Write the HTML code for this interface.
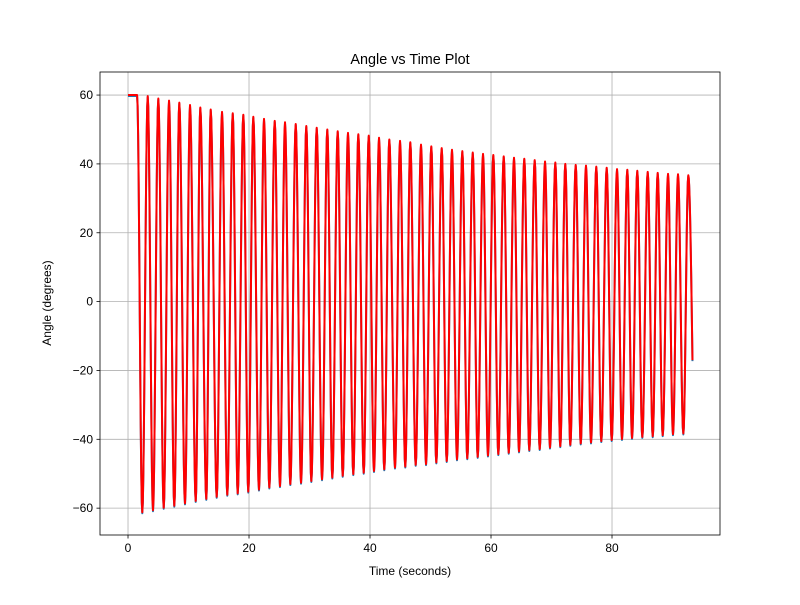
<!DOCTYPE html>
<html><head><meta charset="utf-8"><style>body{margin:0;background:#fff}svg{font-family:"Liberation Sans","DejaVu Sans",sans-serif}</style></head>
<body>
<svg id="chart" width="800" height="600" xmlns="http://www.w3.org/2000/svg"></svg>
<script>
const xTicks=[0,20,40,60,80];
const yTicks=[-60,-40,-20,0,20,40,60];
const startTimes=[0,1.5];
const startValues=[60,60];
const minTimes=[2.36,4.13,5.90,7.65,9.42,11.19,12.94,14.66,16.41,18.13,19.88,21.65,23.36,25.12,26.83,28.60,30.30,32.07,33.77,35.49,37.24,38.96,40.66,42.36,44.13,45.83,47.55,49.26,50.96,52.68,54.38,56.08,57.80,59.50,61.21,62.93,64.63,66.33,68.05,69.75,71.45,73.11,74.83,76.53,78.23,79.95,81.65,83.31,85.01,86.73,88.38,90.08,91.79];
const minValues=[-61.2,-60.6,-59.9,-59.3,-58.6,-57.9,-57.3,-56.7,-56.1,-55.7,-55.2,-54.6,-54.0,-53.6,-53.0,-52.6,-52.1,-51.6,-51.1,-50.6,-50.1,-49.7,-49.2,-48.7,-48.2,-47.9,-47.4,-47.2,-46.7,-46.3,-45.8,-45.5,-45.1,-44.7,-44.3,-43.9,-43.5,-43.1,-42.8,-42.4,-42.0,-41.6,-41.2,-40.9,-40.5,-40.2,-39.9,-39.6,-39.3,-39.1,-38.8,-38.5,-38.3];
const maxTimes=[3.26,5.01,6.78,8.48,10.25,11.95,13.67,15.54,17.31,19.06,20.71,22.48,24.25,25.95,27.72,29.47,31.19,32.94,34.66,36.36,38.07,39.79,41.49,43.19,44.96,46.66,48.43,50.13,51.85,53.55,55.26,56.98,58.68,60.38,62.10,63.80,65.50,67.22,68.93,70.63,72.28,74.00,75.70,77.40,79.12,80.83,82.53,84.18,85.90,87.55,89.26,90.91,92.61];
const maxValues=[59.7,59.0,58.4,57.8,57.1,56.4,55.8,55.1,54.7,54.3,53.7,53.1,52.5,52.1,51.6,51.0,50.5,50.0,49.5,49.0,48.6,48.2,47.6,47.1,46.7,46.3,45.6,45.1,44.6,44.1,43.7,43.3,42.9,42.6,42.2,41.8,41.5,41.1,40.7,40.4,40.0,39.7,39.5,39.2,38.9,38.5,38.3,38.0,37.7,37.4,37.1,37.0,36.7];
const endTimes=[93.3];
const endValues=[-17];

const L=100,R=720,T=72,B=535;
const xMin=-4.63,xMax=97.85,yMin=-67.8,yMax=66.7;
const X=v=>L+(v-xMin)/(xMax-xMin)*(R-L);
const Y=v=>B-(v-yMin)/(yMax-yMin)*(B-T);
const svg=document.getElementById('chart');
const NS='http://www.w3.org/2000/svg';
function mk(tag,attrs,txt){const e=document.createElementNS(NS,tag);for(const k in attrs)e.setAttribute(k,attrs[k]);if(txt!==undefined)e.textContent=txt;svg.appendChild(e);return e;}

// grid
xTicks.forEach(t=>{const g=mk('line',{x1:X(t),x2:X(t),y1:T,y2:B,stroke:'#b0b0b0','stroke-width':0.8});

});
yTicks.forEach(t=>{const g=mk('line',{x1:L,x2:R,y1:Y(t),y2:Y(t),stroke:'#b0b0b0','stroke-width':0.8});

});

// build points
const times=[...startTimes],vals=[...startValues];
for(let i=0;i<minTimes.length;i++){times.push(minTimes[i]);vals.push(minValues[i]);if(i<maxTimes.length){times.push(maxTimes[i]);vals.push(maxValues[i]);}}
times.push(...endTimes);vals.push(...endValues);
let d='M'+X(times[0]).toFixed(2)+','+Y(vals[0]).toFixed(2);
for(let i=1;i<times.length;i++){
  const t0=times[i-1],t1=times[i],v0=vals[i-1],v1=vals[i];
  const last=i===times.length-1;
  const n=10;
  for(let k=1;k<=n;k++){const f=k/n;
    const s=last?Math.sin(f*Math.PI/2)*0+ (1-Math.cos(f*Math.PI/2)):(1-Math.cos(f*Math.PI))/2;
    const t=t0+(t1-t0)*f,v=v0+(v1-v0)*s;
    d+='L'+X(t).toFixed(2)+','+Y(v).toFixed(2);}
}
const blue=mk('path',{d:d,fill:'none',stroke:'#1f77b4','stroke-width':2,transform:'translate(0,1)','stroke-linejoin':'round'});


const red=mk('path',{d:d,fill:'none',stroke:'#ff0000','stroke-width':2,'stroke-linejoin':'round'});



// frame
const fr=mk('rect',{x:L,y:T,width:R-L,height:B-T,fill:'none',stroke:'#000','stroke-width':0.8});



xTicks.forEach(t=>{mk('line',{x1:X(t),x2:X(t),y1:B,y2:B+3.5,stroke:'#000','stroke-width':0.8});
const l=mk('text',{x:X(t),y:B+17,'text-anchor':'middle','font-size':12},String(t));

});
yTicks.forEach(t=>{mk('line',{x1:L-3.5,x2:L,y1:Y(t),y2:Y(t),stroke:'#000','stroke-width':0.8});
const l=mk('text',{x:L-7,y:Y(t)+4,'text-anchor':'end','font-size':12},t<0?'\u2212'+Math.abs(t):String(t));

});
</script>
<svg style="position:absolute;left:0;top:0" width="800" height="600">
<text x="410" y="64" text-anchor="middle" font-size="14.4" font-family="Liberation Sans, sans-serif">Angle vs Time Plot</text>
<text x="410" y="575" text-anchor="middle" font-size="12" font-family="Liberation Sans, sans-serif">Time (seconds)</text>
<text x="51" y="303" text-anchor="middle" font-size="12" font-family="Liberation Sans, sans-serif" transform="rotate(-90 51 303)">Angle (degrees)</text>
</svg>
</body></html>
